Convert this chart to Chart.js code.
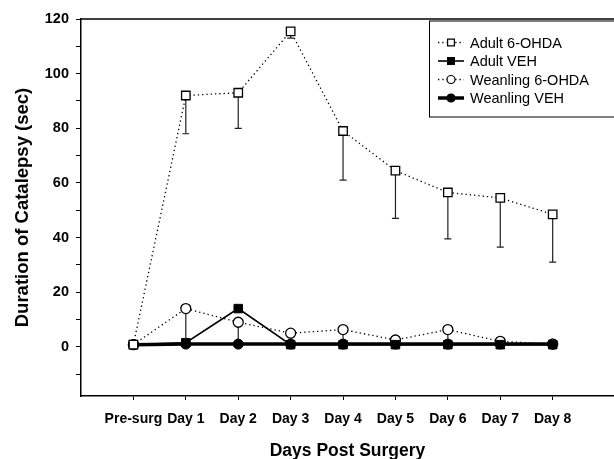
<!DOCTYPE html>
<html>
<head>
<meta charset="utf-8">
<script src="https://cdn.jsdelivr.net/npm/chart.js@4.4.0/dist/chart.umd.min.js"></script>
<style>
  html, body { margin: 0; padding: 0; background: #fff; overflow: hidden; }
  #wrap { width: 614px; height: 459px; }
</style>
</head>
<body>
<div id="wrap"><canvas id="catalepsy-chart"></canvas></div>
<script>
const days = ['Pre-surg', 'Day 1', 'Day 2', 'Day 3', 'Day 4', 'Day 5', 'Day 6', 'Day 7', 'Day 8']
const adult6ohda = [0.8, 92, 93, 115.5, 79, 64.5, 56.5, 54.5, 48.5]
const adult6ohdaLow = [null, 78, 80, 113, 61, 47, 39.5, 36.5, 31]
const adultVeh = [0.8, 1.5, 14, 0.8, 0.8, 0.8, 0.8, 0.8, 0.8]
const weanling6ohda = [0.8, 14, 9, 5, 6.3, 2.5, 6.3, 2, 1]
const weanling6ohdaLow = [null, 1, 1, 1, 1, null, 1, null, null]
const weanlingVeh = [0.8, 1, 1, 1, 1, 1, 1, 1, 1]
const yTicks = [-10, 0, 10, 20, 30, 40, 50, 60, 70, 80, 90, 100, 110, 120]

const chartEl = document.getElementById('catalepsy-chart')
const font = "'Liberation Sans', Arial, sans-serif"

const toPoints = arr => arr.map((v, i) => ({x: i, y: v}))

// error bars (downward only), drawn under the markers
const errorBars = {
    id: 'errorBars',
    beforeDatasetsDraw(chart) {
        const ctx = chart.ctx
        const xs = chart.scales.x, ys = chart.scales.y
        chart.data.datasets.forEach(ds => {
            if (!ds.errLow) return
            ctx.save()
            ctx.strokeStyle = '#222'
            ctx.lineWidth = 1.2
            ds.errLow.forEach((low, i) => {
                if (low === null) return
                const px = xs.getPixelForValue(i)
                const top = ys.getPixelForValue(ds.data[i].y)
                const bot = ys.getPixelForValue(low)
                ctx.beginPath()
                ctx.moveTo(px, top)
                ctx.lineTo(px, bot)
                ctx.moveTo(px - 3.5, bot)
                ctx.lineTo(px + 3.5, bot)
                ctx.stroke()
            })
            ctx.restore()
        })
    }
}

// top frame line + boxed legend inside the plot
const frameAndLegend = {
    id: 'frameAndLegend',
    afterDraw(chart) {
        const ctx = chart.ctx
        const area = chart.chartArea
        ctx.save()
        ctx.strokeStyle = '#000'
        ctx.lineWidth = 1.5
        ctx.beginPath()
        ctx.moveTo(area.left, area.top)
        ctx.lineTo(chart.width, area.top)
        ctx.stroke()

        const bx = area.left + 348, by = area.top + 1.5
        ctx.fillStyle = '#fff'
        ctx.fillRect(bx, by, 200, 96)
        ctx.lineWidth = 1
        ctx.strokeRect(bx + 0.5, by + 0.5, 200, 96)

        chart.data.datasets.forEach((ds, i) => {
            const y = by + 22 + i * 18.5
            const x0 = bx + 9, x1 = bx + 35, mx = (x0 + x1) / 2
            ctx.strokeStyle = '#000'
            ctx.lineWidth = ds.borderWidth
            ctx.setLineDash(ds.borderDash || [])
            ctx.beginPath()
            ctx.moveTo(x0, y)
            ctx.lineTo(x1, y)
            ctx.stroke()
            ctx.setLineDash([])
            ctx.fillStyle = ds.pointBackgroundColor
            ctx.strokeStyle = '#000'
            ctx.lineWidth = 1.2
            ctx.beginPath()
            const r = ds.pointRadius * 0.8
            if (ds.pointStyle === 'rect') {
                const s = r * Math.SQRT1_2
                ctx.rect(mx - s, y - s, 2 * s, 2 * s)
            } else {
                ctx.arc(mx, y, r, 0, Math.PI * 2)
            }
            ctx.fill()
            ctx.stroke()
            ctx.fillStyle = '#000'
            ctx.font = '14.5px ' + font
            ctx.textBaseline = 'middle'
            ctx.fillText(ds.label, bx + 41, y + 1)
        })
        ctx.restore()
    }
}

new Chart(chartEl, {
    type: 'line',
    data: {
        datasets: [{
            label: 'Adult 6-OHDA',
            data: toPoints(adult6ohda),
            errLow: adult6ohdaLow,
            borderColor: '#000',
            borderWidth: 1.3,
            borderDash: [1.3, 3],
            pointStyle: 'rect',
            pointRadius: 6,
            pointBorderWidth: 1.3,
            pointBorderColor: '#000',
            pointBackgroundColor: '#fff'
        }, {
            label: 'Adult VEH',
            data: toPoints(adultVeh),
            borderColor: '#000',
            borderWidth: 1.6,
            pointStyle: 'rect',
            pointRadius: 6,
            pointBorderWidth: 1,
            pointBorderColor: '#000',
            pointBackgroundColor: '#000'
        }, {
            label: 'Weanling 6-OHDA',
            data: toPoints(weanling6ohda),
            errLow: weanling6ohdaLow,
            borderColor: '#000',
            borderWidth: 1.3,
            borderDash: [1.3, 3],
            pointStyle: 'circle',
            pointRadius: 5,
            pointBorderWidth: 1.3,
            pointBorderColor: '#000',
            pointBackgroundColor: '#fff'
        }, {
            label: 'Weanling VEH',
            data: toPoints(weanlingVeh),
            borderColor: '#000',
            borderWidth: 3.5,
            pointStyle: 'circle',
            pointRadius: 5,
            pointBorderWidth: 1,
            pointBorderColor: '#000',
            pointBackgroundColor: '#000'
        }]
    },
    options: {
        responsive: true,
        maintainAspectRatio: false,
        animation: false,
        layout: {autoPadding: false, padding: {top: 19, right: 0, left: 0, bottom: 0}},
        plugins: {
            legend: {display: false},
            tooltip: {enabled: false}
        },
        elements: {line: {tension: 0}},
        scales: {
            x: {
                type: 'linear',
                min: -1,
                max: 9.17,
                afterBuildTicks: axis => { axis.ticks = days.map((d, i) => ({value: i})) },
                afterFit: axis => { axis.height = 63 },
                grid: {drawOnChartArea: false, tickLength: 4, color: '#000', lineWidth: 1},
                border: {color: '#000', width: 1.5},
                ticks: {
                    color: '#000',
                    font: {family: font, size: 14, weight: 'bold'},
                    padding: 11,
                    maxRotation: 0,
                    autoSkip: false,
                    callback: v => days[v] || ''
                },
                title: {
                    display: true,
                    text: 'Days Post Surgery',
                    color: '#000',
                    font: {family: font, size: 17.5, weight: 'bold'},
                    padding: {top: 0, bottom: -3}
                }
            },
            y: {
                min: -18,
                max: 120,
                afterBuildTicks: axis => { axis.ticks = yTicks.map(v => ({value: v})) },
                afterFit: axis => { axis.width = 81 },
                grid: {drawOnChartArea: false, tickLength: 5, color: '#000', lineWidth: 1},
                border: {color: '#000', width: 1.5},
                ticks: {
                    color: '#000',
                    font: {family: font, size: 14.5, weight: 'bold'},
                    padding: 7,
                    callback: v => (v % 20 === 0 ? v : '')
                },
                title: {
                    display: true,
                    text: 'Duration of Catalepsy (sec)',
                    color: '#000',
                    font: {family: font, size: 18.5, weight: 'bold'},
                    padding: {top: 12, bottom: 0}
                }
            }
        }
    },
    plugins: [errorBars, frameAndLegend]
})
</script>
</body>
</html>
